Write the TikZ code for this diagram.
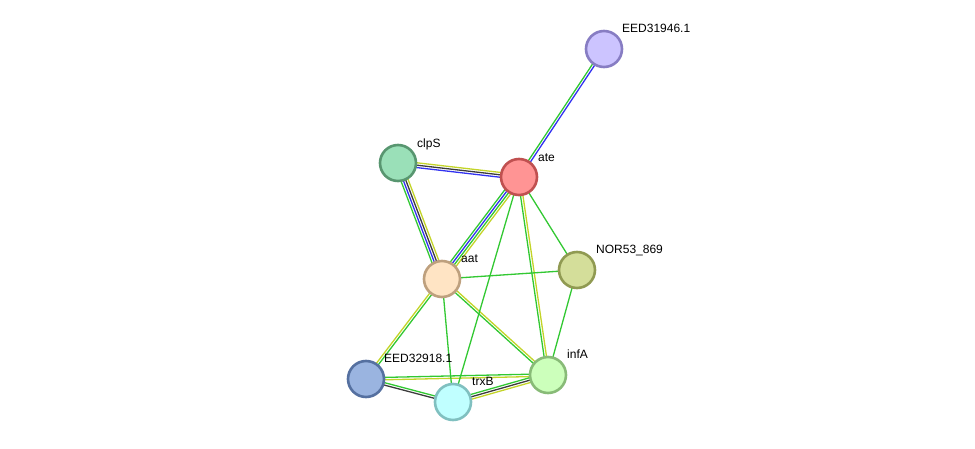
\documentclass[tikz,border=0pt]{standalone}
\usepackage{fontspec}
\setmainfont{Liberation Sans}
\usetikzlibrary{calc}
\pgfdeclarelayer{bg}
\pgfsetlayers{bg,main}
\definecolor{eg}{RGB}{50,200,50}
\definecolor{eb}{RGB}{50,50,240}
\definecolor{ek}{RGB}{60,60,60}
\definecolor{ey}{RGB}{195,212,40}
\newcommand\elines[3]{% from, to, list of color/offset
  \foreach \c/\o in {#3}{%
    \draw[\c,line width=1.3pt] ($(#1.center)!\o pt!90:(#2.center)$) -- ($(#2.center)!\o pt!-90:(#1.center)$);
  }}
\tikzset{
  prot/.style={circle,minimum size=36pt,inner sep=0pt,line width=2.6pt},
  lbl/.style={anchor=base west,font=\fontsize{12}{14}\selectfont,inner sep=0pt}
}
\begin{document}
\begin{tikzpicture}[x=1pt,y=1pt]
\useasboundingbox (0,0) rectangle (975,448);
\node[prot,fill={rgb,255:red,204;green,196;blue,255},draw={rgb,255:red,135;green,125;blue,195}] (e31) at (604,399) {};
\node[prot,fill={rgb,255:red,255;green,148;blue,148},draw={rgb,255:red,192;green,80;blue,80}] (ate) at (519,271) {};
\node[prot,fill={rgb,255:red,154;green,224;blue,184},draw={rgb,255:red,88;green,150;blue,112}] (clps) at (398,285) {};
\node[prot,fill={rgb,255:red,212;green,222;blue,154},draw={rgb,255:red,144;green,154;blue,82}] (nor) at (577,178) {};
\node[prot,fill={rgb,255:red,255;green,228;blue,196},draw={rgb,255:red,190;green,160;blue,126}] (aat) at (442,169) {};
\node[prot,fill={rgb,255:red,154;green,180;blue,224},draw={rgb,255:red,85;green,112;blue,160}] (e32) at (366,69) {};
\node[prot,fill={rgb,255:red,192;green,255;blue,255},draw={rgb,255:red,128;green,192;blue,192}] (trxb) at (453,46) {};
\node[prot,fill={rgb,255:red,204;green,255;blue,187},draw={rgb,255:red,136;green,187;blue,119}] (infa) at (548,73) {};
\begin{pgfonlayer}{bg}
\elines{ate}{e31}{eg/1.2,eb/-1.2}
\elines{clps}{ate}{ey/2.4,ek/0,eb/-2.4}
\elines{clps}{aat}{eg/-3.6,eb/-1.2,ek/1.2,ey/3.6}
\elines{ate}{aat}{ey/3.6,eg/1.2,eb/-1.2,eg/-3.6}
\elines{aat}{e32}{eg/1.2,ey/-1.2}
\elines{ate}{infa}{ey/1.2,eg/-1.2}
\elines{aat}{infa}{ey/1.2,eg/-1.2}
\elines{e32}{infa}{eg/1.2,ey/-1.2}
\elines{e32}{trxb}{eg/1.2,ek/-1.2}
\elines{trxb}{infa}{eg/2.4,ek/0,ey/-2.4}
\elines{ate}{nor}{eg/0}
\elines{ate}{trxb}{eg/0}
\elines{aat}{nor}{eg/0}
\elines{aat}{trxb}{eg/0}
\elines{nor}{infa}{eg/0}
\end{pgfonlayer}
\node[lbl] (l1) at (622,415) {EED31946.1};
\node[lbl] (l2) at (538,286) {ate};
\node[lbl] (l3) at (417,300) {clpS};
\node[lbl] (l4) at (596,195) {NOR53\_869};
\node[lbl] (l5) at (461,186) {aat};
\node[lbl] (l6) at (384,86) {EED32918.1};
\node[lbl] (l7) at (472,63) {trxB};
\node[lbl] (l8) at (567,90) {infA};
\end{tikzpicture}
\end{document}
